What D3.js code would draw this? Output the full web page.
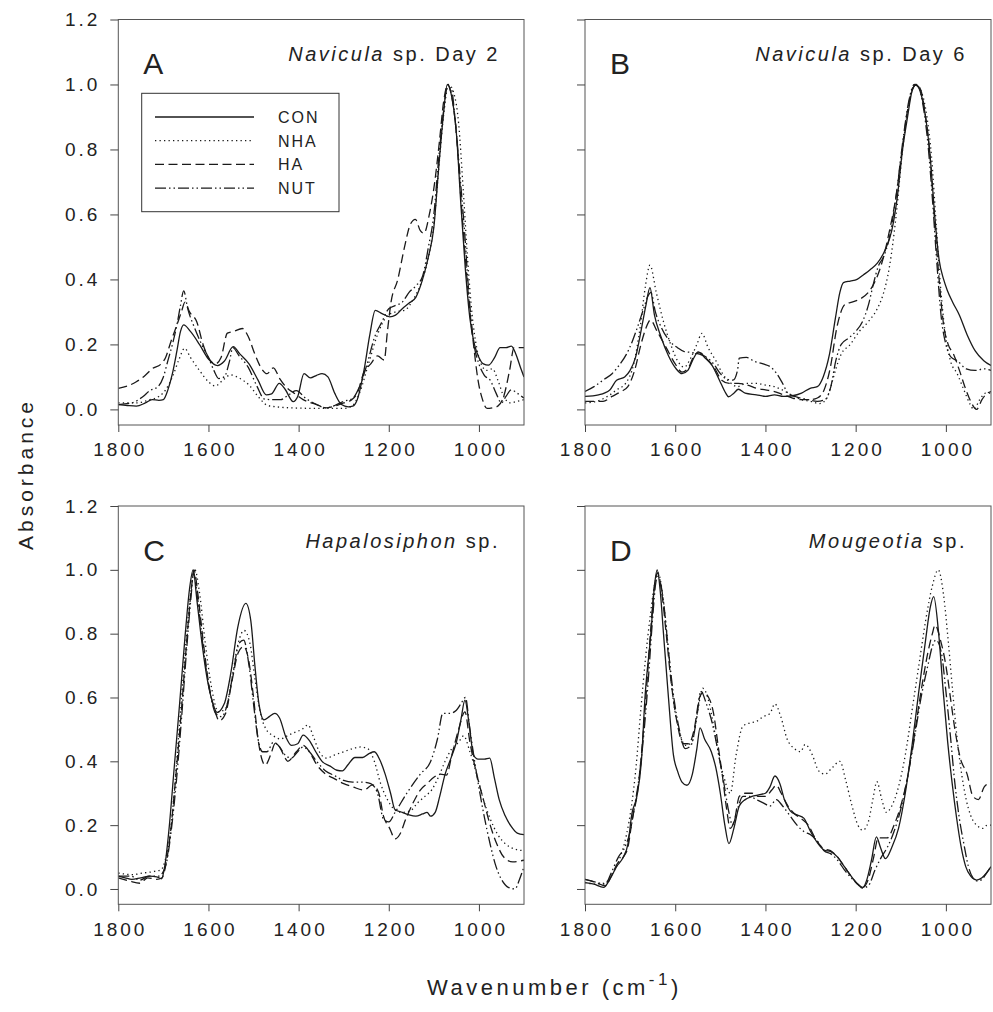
<!DOCTYPE html>
<html>
<head>
<meta charset="utf-8">
<script src="https://cdn.jsdelivr.net/npm/d3@7"></script>
<style>
body { margin: 0; background: #fff; }
svg text { font-family: "Liberation Sans", Arial, sans-serif; fill: #222; }
</style>
</head>
<body>
<svg id="chart" width="993" height="1012"></svg>
<script>
// treatments, panel labels and ticks
var treatments = ["CON", "NHA", "HA", "NUT"];
var panelLetters = ["A", "B", "C", "D"];
var panelGenus = ["Navicula", "Navicula", "Hapalosiphon", "Mougeotia"];
var panelSuffix = [" sp. Day 2", " sp. Day 6", " sp.", " sp."];
var xTicks = [1800, 1600, 1400, 1200, 1000];
var yTicks = [0, 0.2, 0.4, 0.6, 0.8, 1.0, 1.2];

// [wavenumber, absorbance]
var A_CON = [[1800,.015],[1780,.012],[1760,.01],[1740,.02],[1725,.03],[1710,.028],[1700,.03],[1690,.06],[1680,.11],[1670,.18],[1662,.24],[1655,.26],[1640,.24],[1620,.2],[1600,.155],[1580,.135],[1565,.148],[1545,.193],[1530,.17],[1510,.14],[1490,.09],[1472,.045],[1460,.048],[1443,.08],[1430,.062],[1412,.024],[1402,.04],[1388,.11],[1374,.097],[1360,.105],[1348,.11],[1335,.1],[1320,.05],[1305,.015],[1290,.008],[1280,.01],[1270,.03],[1255,.12],[1242,.23],[1230,.305],[1215,.295],[1198,.285],[1185,.29],[1170,.31],[1156,.326],[1140,.345],[1125,.4],[1112,.47],[1100,.56],[1090,.73],[1080,.89],[1070,1.0],[1060,.96],[1050,.85],[1040,.63],[1030,.43],[1020,.28],[1010,.2],[1000,.16],[990,.14],[979,.136],[965,.16],[953,.19],[940,.19],[928,.195],[918,.17],[908,.13],[900,.1]];
var A_NHA = [[1800,.02],[1760,.02],[1730,.03],[1710,.04],[1695,.06],[1680,.1],[1665,.155],[1653,.188],[1640,.16],[1620,.12],[1600,.085],[1585,.072],[1568,.09],[1551,.106],[1530,.095],[1510,.075],[1490,.04],[1470,.013],[1450,.008],[1400,.004],[1350,.003],[1300,.003],[1282,.01],[1265,.05],[1245,.14],[1225,.23],[1205,.285],[1185,.3],[1165,.305],[1145,.34],[1128,.39],[1115,.45],[1100,.57],[1088,.76],[1078,.91],[1067,1.0],[1055,.97],[1045,.88],[1035,.68],[1025,.46],[1015,.29],[1005,.19],[995,.14],[983,.12],[970,.125],[958,.09],[945,.04],[930,.02],[915,.025],[900,.03]];
var A_HA = [[1800,.065],[1780,.072],[1760,.085],[1740,.105],[1725,.125],[1705,.14],[1695,.16],[1683,.21],[1670,.26],[1660,.3],[1652,.33],[1642,.3],[1626,.27],[1612,.2],[1598,.155],[1585,.14],[1572,.16],[1558,.235],[1544,.24],[1525,.249],[1512,.225],[1497,.17],[1482,.125],[1470,.11],[1456,.128],[1442,.095],[1425,.065],[1410,.05],[1390,.03],[1360,.015],[1340,.005],[1320,.01],[1300,.02],[1282,.03],[1270,.05],[1255,.115],[1240,.14],[1225,.165],[1210,.152],[1203,.24],[1195,.33],[1180,.4],[1165,.5],[1152,.57],[1141,.585],[1130,.55],[1122,.542],[1110,.6],[1098,.7],[1088,.82],[1078,.95],[1069,1.0],[1060,.96],[1050,.85],[1040,.65],[1032,.5],[1022,.33],[1012,.2],[1002,.09],[992,.03],[982,.003],[970,.005],[958,.01],[945,.04],[932,.12],[922,.19],[910,.19],[900,.19]];
var A_NUT = [[1800,.015],[1770,.02],[1745,.04],[1730,.058],[1712,.07],[1700,.1],[1690,.15],[1680,.2],[1670,.26],[1662,.32],[1655,.365],[1646,.31],[1632,.255],[1615,.2],[1600,.16],[1588,.12],[1577,.095],[1565,.1],[1553,.15],[1546,.19],[1532,.165],[1512,.13],[1492,.07],[1476,.032],[1460,.03],[1440,.03],[1422,.045],[1405,.058],[1385,.035],[1360,.015],[1340,.005],[1320,.012],[1300,.025],[1282,.032],[1265,.07],[1248,.14],[1232,.22],[1215,.27],[1200,.31],[1185,.32],[1170,.33],[1155,.36],[1140,.38],[1125,.41],[1112,.5],[1100,.6],[1090,.76],[1080,.9],[1070,.99],[1062,.99],[1052,.88],[1042,.72],[1032,.55],[1022,.35],[1012,.21],[1000,.14],[988,.105],[975,.09],[962,.05],[950,.02],[940,.04],[928,.06],[915,.05],[900,.035]];

var B_CON = [[1800,.04],[1770,.045],[1745,.06],[1730,.09],[1712,.1],[1700,.12],[1688,.16],[1676,.24],[1665,.32],[1656,.375],[1646,.29],[1632,.225],[1615,.165],[1598,.125],[1585,.11],[1572,.12],[1560,.155],[1549,.177],[1535,.16],[1518,.135],[1502,.09],[1488,.05],[1482,.039],[1470,.05],[1460,.062],[1445,.05],[1420,.045],[1400,.04],[1380,.045],[1360,.04],[1340,.042],[1320,.05],[1301,.065],[1285,.07],[1272,.1],[1258,.17],[1245,.28],[1235,.36],[1227,.39],[1212,.395],[1197,.4],[1182,.415],[1168,.43],[1152,.45],[1135,.49],[1120,.55],[1108,.65],[1096,.8],[1085,.9],[1075,.98],[1066,1.0],[1055,.97],[1045,.9],[1035,.78],[1025,.6],[1015,.46],[1005,.4],[997,.367],[985,.33],[970,.29],[953,.23],[935,.18],[916,.15],[900,.135]];
var B_NHA = [[1800,.02],[1775,.025],[1750,.04],[1730,.06],[1710,.08],[1692,.14],[1678,.25],[1666,.38],[1656,.444],[1642,.36],[1626,.27],[1610,.2],[1595,.15],[1580,.13],[1565,.16],[1552,.2],[1541,.234],[1527,.19],[1510,.15],[1495,.11],[1480,.085],[1462,.07],[1442,.08],[1420,.08],[1400,.075],[1380,.07],[1360,.058],[1340,.042],[1320,.03],[1300,.025],[1280,.018],[1266,.03],[1255,.07],[1245,.12],[1232,.17],[1212,.2],[1192,.24],[1172,.27],[1152,.31],[1140,.35],[1125,.44],[1110,.6],[1096,.8],[1082,.94],[1068,1.0],[1055,.98],[1042,.9],[1032,.78],[1022,.58],[1012,.38],[1002,.24],[990,.15],[975,.11],[960,.06],[946,.015],[938,.0],[925,.03],[912,.05],[900,.05]];
var B_HA = [[1800,.025],[1760,.025],[1740,.04],[1720,.055],[1705,.07],[1690,.12],[1676,.2],[1665,.25],[1655,.275],[1640,.24],[1620,.19],[1600,.14],[1585,.115],[1570,.13],[1556,.17],[1546,.175],[1530,.155],[1514,.13],[1497,.09],[1480,.08],[1460,.08],[1440,.075],[1420,.065],[1400,.06],[1380,.055],[1360,.045],[1340,.035],[1320,.03],[1300,.03],[1285,.035],[1270,.06],[1256,.13],[1242,.25],[1223,.324],[1208,.33],[1190,.34],[1172,.36],[1155,.4],[1140,.46],[1125,.55],[1110,.66],[1097,.8],[1085,.92],[1073,.99],[1065,1.0],[1055,.98],[1045,.9],[1035,.78],[1025,.58],[1015,.4],[1005,.26],[995,.2],[983,.17],[970,.12],[958,.07],[945,.025],[932,.0],[920,.03],[908,.05],[900,.055]];
var B_NUT = [[1800,.055],[1780,.07],[1760,.09],[1740,.11],[1722,.14],[1708,.17],[1695,.21],[1682,.26],[1670,.31],[1660,.35],[1654,.36],[1644,.3],[1630,.25],[1612,.21],[1595,.19],[1580,.178],[1562,.175],[1546,.17],[1530,.16],[1515,.14],[1500,.11],[1488,.095],[1472,.09],[1462,.12],[1458,.158],[1442,.16],[1425,.148],[1405,.14],[1388,.13],[1375,.11],[1362,.08],[1350,.05],[1330,.038],[1305,.03],[1285,.025],[1268,.03],[1255,.07],[1244,.15],[1232,.2],[1215,.22],[1200,.24],[1185,.27],[1172,.32],[1160,.39],[1150,.44],[1138,.47],[1125,.53],[1110,.66],[1096,.82],[1082,.95],[1070,1.0],[1060,.99],[1050,.93],[1040,.82],[1030,.65],[1020,.45],[1010,.28],[1000,.2],[988,.16],[975,.15],[955,.125],[935,.12],[915,.125],[900,.12]];

var C_CON = [[1800,.04],[1785,.035],[1770,.03],[1750,.035],[1730,.04],[1715,.038],[1704,.032],[1696,.08],[1688,.18],[1676,.38],[1664,.58],[1652,.79],[1642,.94],[1634,1.0],[1626,.91],[1617,.8],[1603,.66],[1592,.59],[1581,.553],[1565,.58],[1550,.68],[1535,.82],[1517,.895],[1506,.84],[1497,.7],[1488,.58],[1477,.53],[1465,.54],[1453,.55],[1442,.535],[1428,.475],[1416,.45],[1402,.455],[1390,.482],[1376,.465],[1362,.43],[1348,.4],[1330,.385],[1315,.372],[1303,.37],[1290,.39],[1275,.412],[1258,.412],[1243,.425],[1232,.43],[1220,.405],[1208,.36],[1196,.3],[1186,.248],[1170,.24],[1155,.232],[1140,.228],[1125,.235],[1115,.24],[1107,.228],[1097,.24],[1087,.29],[1075,.36],[1062,.41],[1050,.46],[1040,.53],[1031,.592],[1022,.52],[1012,.42],[1002,.407],[988,.407],[976,.41],[966,.35],[955,.28],[942,.23],[928,.195],[915,.175],[900,.17]];
var C_NHA = [[1800,.05],[1770,.045],[1745,.05],[1720,.055],[1705,.06],[1696,.09],[1686,.16],[1675,.32],[1664,.52],[1652,.74],[1640,.92],[1630,1.0],[1620,.93],[1607,.77],[1593,.63],[1578,.555],[1562,.565],[1548,.66],[1534,.77],[1521,.81],[1508,.77],[1497,.66],[1486,.56],[1472,.5],[1456,.48],[1440,.47],[1425,.48],[1410,.49],[1393,.5],[1379,.514],[1368,.48],[1354,.43],[1338,.41],[1320,.42],[1300,.43],[1280,.44],[1262,.445],[1247,.44],[1232,.4],[1218,.33],[1203,.28],[1188,.25],[1170,.24],[1152,.245],[1136,.27],[1120,.29],[1105,.31],[1090,.35],[1075,.4],[1060,.44],[1045,.46],[1034,.48],[1020,.43],[1005,.36],[990,.28],[975,.22],[958,.17],[940,.14],[920,.125],[900,.12]];
var C_HA = [[1800,.035],[1775,.025],[1752,.018],[1735,.035],[1715,.03],[1703,.035],[1694,.08],[1684,.18],[1672,.36],[1660,.56],[1648,.78],[1638,.94],[1632,1.0],[1624,.93],[1612,.78],[1598,.63],[1586,.56],[1576,.527],[1562,.55],[1548,.65],[1534,.74],[1522,.76],[1510,.71],[1500,.6],[1490,.47],[1480,.4],[1474,.388],[1462,.42],[1452,.456],[1440,.44],[1430,.41],[1424,.4],[1405,.43],[1390,.45],[1376,.43],[1360,.39],[1340,.36],[1320,.345],[1300,.33],[1280,.32],[1255,.31],[1236,.326],[1222,.3],[1212,.23],[1198,.19],[1186,.157],[1176,.17],[1162,.22],[1146,.27],[1130,.31],[1115,.33],[1100,.35],[1085,.36],[1072,.357],[1060,.42],[1045,.5],[1031,.555],[1020,.46],[1005,.36],[990,.28],[975,.2],[960,.14],[945,.1],[925,.085],[900,.09]];
var C_NUT = [[1800,.04],[1772,.04],[1752,.028],[1732,.04],[1712,.04],[1702,.05],[1692,.09],[1682,.19],[1671,.34],[1660,.53],[1649,.74],[1639,.91],[1633,.99],[1625,.92],[1612,.76],[1597,.62],[1584,.55],[1571,.54],[1560,.57],[1546,.67],[1532,.77],[1522,.78],[1510,.7],[1500,.58],[1490,.47],[1480,.43],[1470,.43],[1456,.46],[1445,.45],[1430,.42],[1416,.41],[1402,.43],[1390,.445],[1376,.43],[1360,.4],[1340,.37],[1320,.355],[1300,.34],[1280,.335],[1260,.335],[1240,.33],[1225,.3],[1212,.22],[1200,.21],[1186,.24],[1160,.3],[1130,.36],[1107,.4],[1092,.47],[1080,.55],[1065,.55],[1050,.56],[1040,.58],[1030,.6],[1020,.5],[1005,.36],[990,.24],[975,.14],[962,.07],[950,.03],[935,.005],[920,0],[910,.03],[900,.07]];

var D_CON = [[1800,.02],[1780,.015],[1759,.005],[1745,.03],[1730,.07],[1715,.1],[1705,.14],[1696,.236],[1685,.29],[1675,.4],[1667,.6],[1654,.8],[1646,.95],[1640,1.0],[1633,.93],[1626,.8],[1615,.6],[1604,.42],[1595,.37],[1585,.335],[1574,.325],[1562,.36],[1552,.44],[1545,.505],[1535,.47],[1520,.43],[1510,.38],[1500,.3],[1490,.2],[1481,.142],[1470,.19],[1458,.26],[1445,.28],[1430,.29],[1415,.295],[1400,.3],[1390,.32],[1379,.354],[1368,.33],[1358,.28],[1345,.245],[1330,.232],[1315,.222],[1300,.18],[1285,.145],[1270,.122],[1255,.117],[1240,.1],[1225,.07],[1210,.04],[1195,.015],[1184,.005],[1175,.03],[1165,.09],[1154,.163],[1145,.13],[1134,.095],[1120,.13],[1105,.19],[1090,.3],[1075,.45],[1060,.62],[1045,.78],[1035,.88],[1027,.916],[1016,.8],[1006,.62],[996,.46],[986,.33],[976,.22],[966,.13],[956,.07],[945,.04],[932,.028],[920,.035],[910,.05],[900,.07]];
var D_NHA = [[1800,.02],[1775,.015],[1755,.02],[1738,.05],[1722,.1],[1708,.17],[1697,.26],[1687,.38],[1677,.55],[1666,.72],[1655,.86],[1645,.96],[1638,.99],[1626,.9],[1615,.75],[1605,.6],[1592,.5],[1577,.45],[1563,.46],[1551,.55],[1539,.629],[1528,.6],[1516,.52],[1505,.43],[1492,.35],[1478,.3],[1465,.42],[1450,.51],[1435,.52],[1420,.525],[1405,.54],[1390,.55],[1379,.58],[1366,.54],[1352,.47],[1336,.44],[1322,.43],[1312,.453],[1296,.42],[1282,.37],[1268,.36],[1252,.38],[1235,.4],[1222,.34],[1208,.26],[1195,.2],[1184,.184],[1172,.21],[1162,.28],[1153,.336],[1142,.28],[1132,.24],[1120,.26],[1105,.32],[1090,.42],[1075,.56],[1060,.7],[1045,.84],[1030,.95],[1017,1.0],[1005,.92],[995,.78],[985,.62],[975,.47],[965,.36],[955,.28],[945,.23],[932,.2],[918,.19],[908,.2],[900,.2]];
var D_HA = [[1800,.03],[1775,.02],[1755,.01],[1742,.04],[1728,.08],[1715,.1],[1705,.13],[1695,.22],[1684,.3],[1675,.42],[1665,.6],[1655,.8],[1646,.95],[1639,.99],[1630,.93],[1620,.8],[1610,.66],[1597,.53],[1582,.455],[1570,.455],[1558,.5],[1546,.6],[1538,.615],[1526,.6],[1515,.55],[1505,.45],[1495,.35],[1486,.25],[1478,.19],[1468,.22],[1458,.29],[1445,.3],[1430,.3],[1415,.29],[1400,.29],[1386,.31],[1376,.325],[1365,.3],[1350,.26],[1335,.235],[1320,.22],[1305,.2],[1290,.16],[1272,.127],[1256,.12],[1240,.1],[1225,.07],[1210,.04],[1196,.015],[1184,.005],[1172,.03],[1160,.1],[1150,.16],[1140,.16],[1130,.16],[1115,.2],[1100,.26],[1085,.35],[1070,.48],[1055,.62],[1040,.74],[1030,.8],[1024,.827],[1012,.78],[1000,.7],[990,.6],[980,.5],[968,.41],[953,.36],[940,.29],[928,.28],[915,.32],[905,.33],[900,.33]];
var D_NUT = [[1800,.03],[1772,.02],[1755,.015],[1742,.05],[1726,.1],[1712,.13],[1700,.18],[1690,.26],[1680,.35],[1670,.48],[1660,.65],[1650,.85],[1643,.96],[1638,.98],[1626,.9],[1616,.76],[1605,.62],[1591,.5],[1578,.44],[1565,.45],[1553,.53],[1543,.62],[1531,.58],[1518,.52],[1505,.43],[1492,.33],[1481,.24],[1473,.2],[1462,.25],[1450,.29],[1435,.29],[1420,.28],[1405,.27],[1390,.26],[1376,.28],[1362,.26],[1346,.23],[1330,.2],[1315,.18],[1300,.17],[1285,.15],[1270,.12],[1255,.11],[1240,.09],[1225,.06],[1210,.035],[1195,.015],[1185,.003],[1172,.01],[1157,.06],[1143,.1],[1130,.13],[1115,.18],[1100,.25],[1085,.35],[1070,.47],[1055,.6],[1040,.7],[1030,.76],[1022,.78],[1010,.74],[1000,.62],[990,.48],[980,.33],[970,.22],[960,.14],[950,.07],[940,.035],[930,.025],[920,.03],[910,.05],[900,.07]];

var panelSeries = [
    [A_CON, A_NHA, A_HA, A_NUT],
    [B_CON, B_NHA, B_HA, B_NUT],
    [C_CON, C_NHA, C_HA, C_NUT],
    [D_CON, D_NHA, D_HA, D_NUT]
];

// layout
var cols = [{ left: 118.3, right: 524 }, { left: 585, right: 991 }];
var rows = [{ top: 19.5, bottom: 425 }, { top: 506, bottom: 904.3 }];
var dashes = { CON: null, NHA: "1.3,3.2", HA: "9,4.5", NUT: "11,3,1.5,3,1.5,3" };

var svg = d3.select("#chart");

panelSeries.forEach(function(series, i){
    var c = cols[i % 2],
        r = rows[Math.floor(i / 2)];

    var x = d3.scaleLinear().domain([1800, 900]).range([c.left, c.right]);
    var y = d3.scaleLinear().domain([-0.048, 1.2]).range([r.bottom, r.top]);

    var g = svg.append("g");

    g.append("clipPath").attr("id", "clip" + i)
        .append("rect")
        .attr("x", c.left).attr("y", r.top)
        .attr("width", c.right - c.left).attr("height", r.bottom - r.top);

    var line = d3.line()
        .x(function(d){ return x(d[0]); })
        .y(function(d){ return y(d[1]); })
        .curve(d3.curveMonotoneX);

    series.forEach(function(s, k){
        g.append("path")
            .attr("clip-path", "url(#clip" + i + ")")
            .attr("d", line(s))
            .attr("fill", "none")
            .attr("stroke", "#1a1a1a")
            .attr("stroke-width", 1.3)
            .attr("stroke-dasharray", dashes[treatments[k]]);
    });

    // frame
    g.append("rect")
        .attr("x", c.left).attr("y", r.top)
        .attr("width", c.right - c.left).attr("height", r.bottom - r.top)
        .attr("fill", "none").attr("stroke", "#555").attr("stroke-width", 1);

    var yAxis = d3.axisLeft(y).tickValues(yTicks).tickSize(8).tickPadding(10)
        .tickFormat(i % 2 == 0 ? d3.format(".1f") : function(){ return ""; });
    var yg = g.append("g").attr("transform", "translate(" + c.left + ",0)").call(yAxis);
    yg.select(".domain").remove();
    yg.selectAll("line").attr("stroke", "#444");
    yg.selectAll("text").attr("font-size", 19).style("letter-spacing", "3px")
        .attr("font-family", null).attr("fill", "#222");

    var xAxis = d3.axisBottom(x).tickValues(xTicks).tickSize(7).tickPadding(11)
        .tickFormat(d3.format("d"));
    var xg = g.append("g").attr("transform", "translate(0," + r.bottom + ")").call(xAxis);
    xg.select(".domain").remove();
    xg.selectAll("line").attr("stroke", "#444");
    xg.selectAll("text").attr("font-size", 19).style("letter-spacing", "3px")
        .attr("font-family", null).attr("fill", "#222").attr("dx", "1.5");

    g.append("text")
        .attr("x", c.left + 25).attr("y", r.top + 54.5)
        .attr("font-size", 30)
        .text(panelLetters[i]);

    var title = g.append("text")
        .attr("x", c.right - 24).attr("y", r.top + 41.5)
        .attr("text-anchor", "end")
        .attr("font-size", 20)
        .style("letter-spacing", "2.5px");
    title.append("tspan").attr("font-style", "italic").text(panelGenus[i]);
    title.append("tspan").text(panelSuffix[i]);
});

// legend in panel A
var legend = svg.append("g");
legend.append("rect")
    .attr("x", 141.7).attr("y", 93.3).attr("width", 197.3).attr("height", 118.4)
    .attr("fill", "#fff").attr("stroke", "#333").attr("stroke-width", 1);
treatments.forEach(function(t, k){
    var ly = 117 + k * 23.7;
    legend.append("line")
        .attr("x1", 155).attr("x2", 254).attr("y1", ly).attr("y2", ly)
        .attr("stroke", "#1a1a1a").attr("stroke-width", 1.3)
        .attr("stroke-dasharray", dashes[t]);
    legend.append("text")
        .attr("x", 278).attr("y", ly + 6)
        .attr("font-size", 16).style("letter-spacing", "2px")
        .text(t);
});

// axis titles
svg.append("text")
    .attr("transform", "translate(33,474) rotate(-90)")
    .attr("text-anchor", "middle")
    .attr("font-size", 21).style("letter-spacing", "4px")
    .text("Absorbance");

var xt = svg.append("text")
    .attr("x", 427).attr("y", 995)
    .attr("font-size", 22).style("letter-spacing", "3.5px");
xt.append("tspan").text("Wavenumber (cm");
xt.append("tspan").attr("font-size", 17).attr("dy", -10).text("-1");
xt.append("tspan").attr("dy", 10).text(")");
</script>
</body>
</html>
